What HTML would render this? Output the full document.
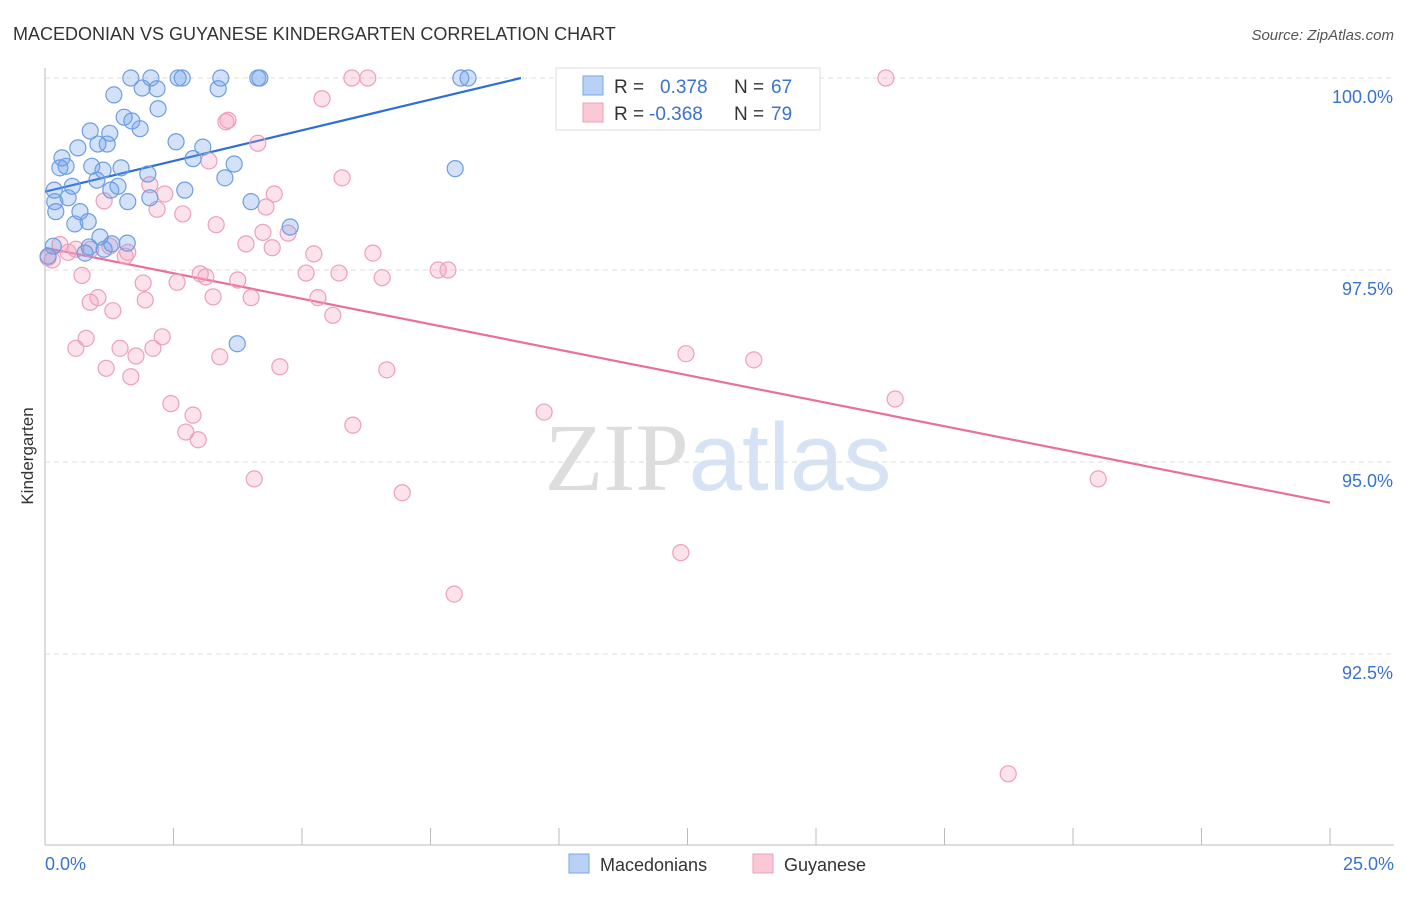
<!DOCTYPE html>
<html><head><meta charset="utf-8">
<style>
body{margin:0;background:#fff;font-family:"Liberation Sans",sans-serif;}
svg text{font-family:"Liberation Sans",sans-serif;}
</style></head>
<body>
<svg id="chart" width="1406" height="892" xmlns="http://www.w3.org/2000/svg">
<text x="13" y="40" font-size="18" fill="#333">MACEDONIAN VS GUYANESE KINDERGARTEN CORRELATION CHART</text>
<text x="1394" y="40" font-size="15" fill="#555" text-anchor="end" font-style="italic">Source: ZipAtlas.com</text>
<text x="718" y="490" font-size="96" text-anchor="middle"><tspan fill="#ddd" font-family="Liberation Serif">ZIP</tspan><tspan fill="#d5e3f5">atlas</tspan></text>
<g id="grid"></g><g id="axes"></g><g id="lines"></g><g id="points"></g>
<text transform="translate(33,456) rotate(-90)" font-size="17" fill="#333" text-anchor="middle">Kindergarten</text>
<g>
<rect x="556" y="68" width="264" height="62" fill="#fff" stroke="#ddd"/>
<rect x="583" y="76" width="20" height="19" fill="#b8d1f5" stroke="#7aa6e6"/>
<rect x="583" y="103" width="20" height="19" fill="#fbc8d6" stroke="#eda0b8"/>
<text x="614" y="93" font-size="19" fill="#333">R =</text>
<text x="660" y="93" font-size="19" fill="#3a72d0">0.378</text>
<text x="734" y="93" font-size="19" fill="#333">N =</text>
<text x="771" y="93" font-size="19" fill="#3a72d0">67</text>
<text x="614" y="120" font-size="19" fill="#333">R =</text>
<text x="649" y="120" font-size="19" fill="#3a72d0">-0.368</text>
<text x="734" y="120" font-size="19" fill="#333">N =</text>
<text x="771" y="120" font-size="19" fill="#3a72d0">79</text>
</g>
<g>
<rect x="569" y="854" width="20" height="19" fill="#b8d1f5" stroke="#7aa6e6"/>
<text x="600" y="871" font-size="18" fill="#333">Macedonians</text>
<rect x="753" y="854" width="20" height="19" fill="#fbc8d6" stroke="#eda0b8"/>
<text x="784" y="871" font-size="18" fill="#333">Guyanese</text>
</g>
</svg>
<script>
const blueX=[1.67,2.06,2.59,2.67,3.42,4.14,4.18,8.09,8.23,1.34,1.89,2.18,3.37,2.20,1.54,1.69,1.85,0.88,1.26,1.03,1.21,0.64,2.55,3.07,0.33,0.41,0.29,0.91,1.13,1.48,2.00,2.88,3.68,3.50,1.01,0.53,0.18,1.28,1.42,2.72,0.45,0.19,1.61,2.04,4.01,7.98,0.21,0.68,0.84,0.58,4.77,0.16,1.07,1.30,1.60,0.86,1.15,0.78,0.06,3.74];
const blueY=[100,100,100,100,100,100,100,100,100,99.78,99.87,99.86,99.86,99.60,99.49,99.44,99.34,99.31,99.28,99.14,99.14,99.09,99.17,99.10,98.96,98.85,98.83,98.85,98.80,98.83,98.75,98.95,98.88,98.70,98.67,98.59,98.54,98.54,98.59,98.54,98.44,98.39,98.39,98.44,98.39,98.82,98.26,98.26,98.13,98.10,98.06,97.81,97.93,97.84,97.85,97.80,97.77,97.72,97.68,96.54];
const pinkX=[5.97,6.28,16.36,5.39,3.56,3.52,4.14,3.19,5.78,2.04,2.33,4.46,1.15,2.18,2.68,4.30,3.33,4.24,4.73,3.91,4.42,0.29,0.60,0.89,1.26,1.56,1.61,0.14,0.45,5.23,6.38,5.08,5.72,6.56,7.65,7.84,0.72,3.02,3.13,2.57,3.75,1.91,3.27,4.01,5.31,1.03,0.88,1.95,1.32,5.60,0.80,2.28,0.60,1.46,2.10,1.77,3.40,1.19,4.57,6.65,1.67,12.47,13.79,16.54,2.45,2.88,9.71,2.74,2.98,5.99,4.07,6.95,20.49,12.37,7.96,18.74,0.06];
const pinkY=[100,100,100,99.73,99.45,99.43,99.15,98.92,98.70,98.61,98.49,98.49,98.40,98.29,98.23,98.32,98.09,97.99,97.98,97.84,97.79,97.83,97.77,97.77,97.81,97.68,97.73,97.63,97.73,97.71,97.72,97.46,97.46,97.40,97.50,97.50,97.43,97.45,97.41,97.34,97.37,97.33,97.15,97.14,97.14,97.14,97.08,97.11,96.97,96.91,96.61,96.63,96.48,96.48,96.48,96.38,96.37,96.22,96.24,96.20,96.11,96.41,96.33,95.82,95.76,95.61,95.65,95.39,95.29,95.48,94.78,94.60,94.78,93.82,93.28,90.94,97.66];
const blueLine=[[0,98.52],[9.26,100.0]];
const pinkLine=[[0,97.79],[25,94.47]];
const yTicks=[100,97.5,95,92.5];
const yTickLabels=["100.0%","97.5%","95.0%","92.5%"];
const xTicks=[0,2.5,5,7.5,10,12.5,15,17.5,20,22.5,25];
const NS="http://www.w3.org/2000/svg";
const sx=v=>45+v/25*1285;
const sy=v=>78+(100-v)/2.5*192;
function mk(tag,attrs,parent){const e=document.createElementNS(NS,tag);for(const k in attrs)e.setAttribute(k,attrs[k]);document.getElementById(parent).appendChild(e);return e;}
yTicks.forEach((t,i)=>{
 let l=mk('line',{x1:45,x2:1394,y1:sy(t),y2:sy(t),stroke:'#ddd','stroke-dasharray':'5,4'},'grid');
 
 
 let tx=mk('text',{x:1393,y:sy(t)+25,'font-size':18,fill:'#3a72d0','text-anchor':'end'},'grid');
 tx.textContent=yTickLabels[i];
 
 
});
let ax=mk('line',{x1:45,x2:1394,y1:845,y2:845,stroke:'#bbb'},'axes');


let ay=mk('line',{x1:45,x2:45,y1:68,y2:845,stroke:'#bbb'},'axes');


xTicks.forEach(t=>{
 let l=mk('line',{x1:sx(t),x2:sx(t),y1:828,y2:845,stroke:'#bbb'},'axes');
 
 
});
[[0,"0.0%","start",45],[25,"25.0%","end",1394]].forEach(a=>{
 let tx=mk('text',{x:a[3],y:870,'font-size':18,fill:'#3a72d0','text-anchor':a[2]},'axes');
 tx.textContent=a[1];
 
 
});
function drawPts(X,Y,fill,stroke,name){
 X.forEach((x,i)=>{
  let c=mk('circle',{cx:sx(x),cy:sy(Y[i]),r:8,fill:fill,stroke:stroke,'stroke-width':1.2},'points');
  
  
 });
}
drawPts(pinkX,pinkY,'rgba(244,160,188,0.3)','#eda0b8','guyanese-point');
drawPts(blueX,blueY,'rgba(110,160,235,0.3)','#6e9de0','macedonian-point');
let bl=mk('line',{x1:sx(blueLine[0][0]),y1:sy(blueLine[0][1]),x2:sx(blueLine[1][0]),y2:sy(blueLine[1][1]),stroke:'#2d6fd6','stroke-width':2.2},'lines');


let pl=mk('line',{x1:sx(pinkLine[0][0]),y1:sy(pinkLine[0][1]),x2:sx(pinkLine[1][0]),y2:sy(pinkLine[1][1]),stroke:'#e8709a','stroke-width':2.2},'lines');


</script>
</body></html>
